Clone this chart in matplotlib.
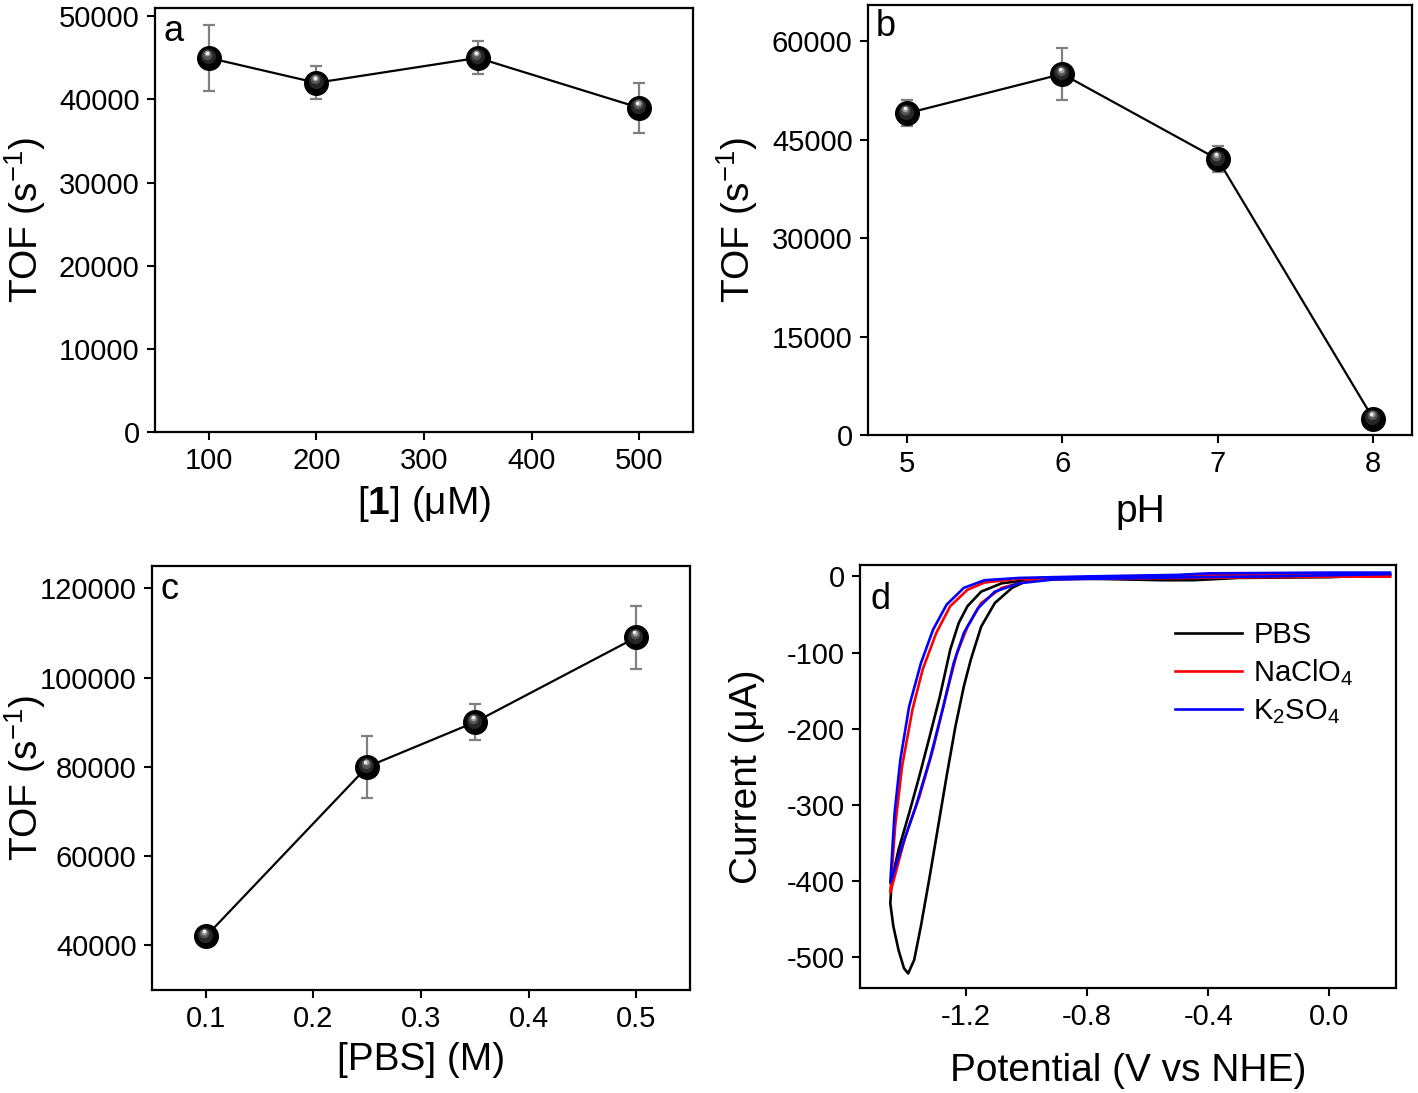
import matplotlib
matplotlib.use('Agg')
import matplotlib.pyplot as plt
import matplotlib.transforms as mtransforms

plt.rcParams['font.family'] = ['Liberation Sans', 'DejaVu Sans']
plt.rcParams['mathtext.fontset'] = 'custom'
plt.rcParams['mathtext.rm'] = 'Liberation Sans'
plt.rcParams['mathtext.it'] = 'Liberation Sans:italic'
plt.rcParams['mathtext.bf'] = 'Liberation Sans:bold'
plt.rcParams['axes.unicode_minus'] = False

# panel a: TOF vs [1]
conc_uM = [100, 200, 350, 500]
tof_conc = [45000, 42000, 45000, 39000]
err_conc = [4000, 2000, 2000, 3000]

# panel b: TOF vs pH
ph = [5, 6, 7, 8]
tof_ph = [49000, 55000, 42000, 2500]
err_ph = [2000, 4000, 2000, 1000]

# panel c: TOF vs [PBS]
pbs_M = [0.1, 0.25, 0.35, 0.5]
tof_pbs = [42000, 80000, 90000, 109000]
err_pbs = [1500, 7000, 4000, 7000]

# panel d: cyclic voltammograms (V vs NHE, uA), closed loops
v_pbs = [0.20, -0.20, -0.45, -0.60, -0.85, -0.99, -1.048, -1.105, -1.15, -1.184,
         -1.207, -1.235, -1.264, -1.292, -1.32, -1.349, -1.371, -1.391, -1.405,
         -1.423, -1.44, -1.45, -1.445, -1.423, -1.388, -1.354, -1.32, -1.286,
         -1.252, -1.224, -1.195, -1.15, -1.082, -0.968, -0.80, -0.55, -0.45,
         -0.30, 0.0, 0.20]
i_pbs = [2, 0, -1, -2, -3, -4, -15, -35, -66, -109,
         -144, -197, -262, -328, -394, -459, -503, -521, -514,
         -490, -459, -429, -398, -359, -311, -262, -210, -157,
         -96, -61, -39, -20, -9, -3.5, -3, -5, -5,
         -2, -1, 2]

v_naclo4 = [0.20, -0.20, -0.45, -0.60, -0.91, -1.002, -1.082, -1.15, -1.195,
            -1.23, -1.264, -1.309, -1.354, -1.40, -1.45, -1.434, -1.411, -1.377,
            -1.343, -1.298, -1.252, -1.195, -1.139, -1.025, -0.80, -0.50, -0.40,
            0.0, 0.20]
i_naclo4 = [0, -1, -2, -2.5, -3.5, -6.5, -15, -35, -66,
            -101, -153, -227, -289, -341, -415, -328, -249, -175,
            -122, -74, -39, -17.5, -8, -3, -1, 1, 2,
            2, 0]

v_k2so4 = [0.20, -0.20, -0.45, -0.60, -0.91, -1.025, -1.105, -1.161, -1.207,
           -1.241, -1.275, -1.32, -1.366, -1.411, -1.45, -1.436, -1.417, -1.388,
           -1.349, -1.309, -1.264, -1.207, -1.139, -1.025, -0.80, -0.50, -0.40,
           0.0, 0.20]
i_k2so4 = [3, 0, -1, -2, -4, -9, -20, -42, -74,
           -114, -171, -241, -302, -354, -402, -311, -241, -171,
           -114, -70, -37, -15, -5, -2, 0, 2, 4,
           5, 5]

LABEL_FS = 28
TICK_FS = 21


def style_axes(ax):
    for s in ax.spines.values():
        s.set_linewidth(1.6)
    ax.tick_params(direction='out', length=6, width=1.5, labelsize=TICK_FS,
                   top=False, right=False, pad=5)


def sphere_plot(ax, x, y, yerr):
    ax.plot(x, y, color='black', lw=1.6, zorder=2)
    ax.errorbar(x, y, yerr=yerr, fmt='none', ecolor='#808080', elinewidth=1.6,
                capsize=4.5, capthick=1.6, zorder=3)
    ax.plot(x, y, 'o', ms=17, mfc='black', mec='black', zorder=4)
    fig = ax.figure
    layers = [('#262626', 11, -0.6, 1.2), ('#555555', 7, -1.0, 2.4),
              ('#a0a0a0', 4.2, -1.2, 3.2), ('#f5f5f5', 2.3, -1.3, 3.6)]
    for col, ms, dx, dy in layers:
        tr = mtransforms.offset_copy(ax.transData, fig=fig, x=dx, y=dy, units='points')
        ax.plot(x, y, 'o', ms=ms, mfc=col, mec='none', transform=tr, zorder=5)


fig = plt.figure(figsize=(14.18, 10.93), dpi=100)

# a
ax = fig.add_axes([0.1093, 0.6048, 0.3794, 0.3879])
sphere_plot(ax, conc_uM, tof_conc, err_conc)
ax.set_xlim(50, 550)
ax.set_ylim(0, 51000)
ax.set_xticks([100, 200, 300, 400, 500])
ax.set_yticks([0, 10000, 20000, 30000, 40000, 50000])
ax.set_xlabel(r'[$\mathbf{1}$] (μM)', fontsize=LABEL_FS, labelpad=6)
ax.set_ylabel(r'TOF (s$^{-1}$)', fontsize=LABEL_FS)
ax.yaxis.set_label_coords(-0.199, 0.5)
ax.text(0.015, 0.985, 'a', transform=ax.transAxes, fontsize=26, va='top')
style_axes(ax)

# b
ax = fig.add_axes([0.6121, 0.602, 0.3837, 0.3934])
sphere_plot(ax, ph, tof_ph, err_ph)
ax.set_xlim(4.75, 8.25)
ax.set_ylim(0, 65500)
ax.set_xticks([5, 6, 7, 8])
ax.set_yticks([0, 15000, 30000, 45000, 60000])
ax.set_xlabel('pH', fontsize=LABEL_FS, labelpad=11)
ax.set_ylabel(r'TOF (s$^{-1}$)', fontsize=LABEL_FS)
ax.yaxis.set_label_coords(-0.199, 0.5)
ax.text(0.015, 0.99, 'b', transform=ax.transAxes, fontsize=26, va='top')
style_axes(ax)

# c
ax = fig.add_axes([0.1072, 0.0942, 0.3794, 0.388])
sphere_plot(ax, pbs_M, tof_pbs, err_pbs)
ax.set_xlim(0.05, 0.55)
ax.set_ylim(30000, 125000)
ax.set_xticks([0.1, 0.2, 0.3, 0.4, 0.5])
ax.set_yticks([40000, 60000, 80000, 100000, 120000])
ax.set_xlabel('[PBS] (M)', fontsize=LABEL_FS, labelpad=6)
ax.set_ylabel(r'TOF (s$^{-1}$)', fontsize=LABEL_FS)
ax.yaxis.set_label_coords(-0.193, 0.5)
ax.text(0.015, 0.985, 'c', transform=ax.transAxes, fontsize=26, va='top')
style_axes(ax)

# d
ax = fig.add_axes([0.6065, 0.0961, 0.378, 0.387])
ax.plot(v_pbs, i_pbs, color='black', lw=1.9, label='PBS')
ax.plot(v_naclo4, i_naclo4, color='#ff0000', lw=1.9, label=r'NaClO$_4$')
ax.plot(v_k2so4, i_k2so4, color='#0000ff', lw=1.9, label=r'K$_2$SO$_4$')
ax.set_xlim(-1.55, 0.22)
ax.set_ylim(-540, 15)
ax.set_xticks([-1.2, -0.8, -0.4, 0.0])
ax.set_xticklabels(['-1.2', '-0.8', '-0.4', '0.0'])
ax.set_yticks([0, -100, -200, -300, -400, -500])
ax.set_xlabel('Potential (V vs NHE)', fontsize=LABEL_FS, labelpad=16)
ax.set_ylabel('Current (μA)', fontsize=LABEL_FS)
ax.yaxis.set_label_coords(-0.177, 0.5)
ax.text(0.02, 0.96, 'd', transform=ax.transAxes, fontsize=26, va='top')
ax.legend(loc='upper right', bbox_to_anchor=(0.97, 0.93), frameon=False,
          fontsize=TICK_FS, handlelength=2.3, handletextpad=0.4,
          labelspacing=0.3)
style_axes(ax)

fig.savefig('out.png', dpi=100)
